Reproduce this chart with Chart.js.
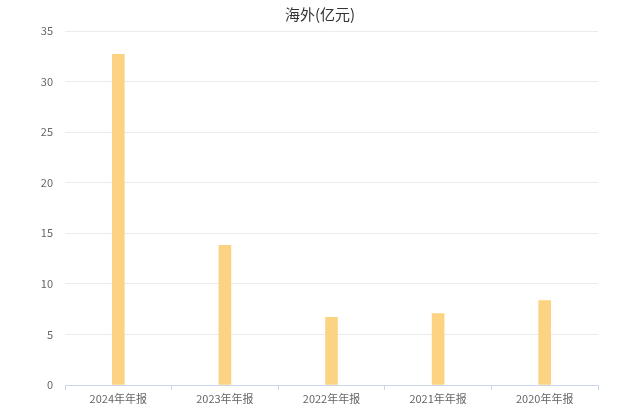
<!DOCTYPE html>
<html>
<head>
<meta charset="utf-8">
<script src="https://cdn.jsdelivr.net/npm/chart.js@4/dist/chart.umd.min.js"></script>
<style>
html,body{margin:0;padding:0;background:#fff;}
#wrap{width:640px;height:414px;}
</style>
</head>
<body>
<div id="wrap"><canvas id="c" width="640" height="414"></canvas></div>
<script>
const categories = ["2024年年报", "2023年年报", "2022年年报", "2021年年报", "2020年年报"];
const overseasValues = [32.7, 13.8, 6.7, 7.05, 8.35];
const yTicks = [0, 5, 10, 15, 20, 25, 30, 35];
const titleText = "海外(亿元)";

const FONT = "'Noto Sans CJK SC', 'Noto Sans', sans-serif";

const centeredTitle = {
  id: 'centeredTitle',
  afterDraw(chart) {
    const ctx = chart.ctx;
    ctx.save();
    ctx.font = "normal 15px " + FONT;
    ctx.fillStyle = '#333';
    ctx.textAlign = 'center';
    ctx.textBaseline = 'middle';
    ctx.fillText(titleText, chart.width / 2, 14);
    ctx.restore();
  }
};

new Chart(document.getElementById('c'), {
  type: 'bar',
  data: {
    labels: categories,
    datasets: [{
      label: titleText,
      data: overseasValues,
      backgroundColor: 'rgb(252,211,130)',
      borderWidth: 0,
      barThickness: 12
    }]
  },
  plugins: [centeredTitle],
  options: {
    responsive: false,
    animation: false,
    devicePixelRatio: 1,
    layout: { padding: { left: 0, right: 42, top: 31, bottom: 0 } },
    plugins: {
      legend: { display: false },
      tooltip: { enabled: false },
      title: { display: false }
    },
    scales: {
      x: {
        offset: true,
        grid: {
          offset: true,
          drawOnChartArea: false,
          drawTicks: true,
          tickLength: 5,
          color: '#ccd6eb'
        },
        border: { display: true, color: '#ccd6eb', width: 1 },
        ticks: {
          color: '#666',
          font: { family: FONT, size: 11 },
          padding: 2,
          maxRotation: 0
        },
        afterFit: (s) => { s.height = 29; }
      },
      y: {
        min: 0,
        max: 35,
        afterBuildTicks: (s) => { s.ticks = yTicks.map(v => ({ value: v })); },
        grid: { color: '#ebebeb', drawTicks: false, lineWidth: 1 },
        border: { display: false },
        ticks: {
          color: '#666',
          font: { family: FONT, size: 11 },
          padding: 12
        },
        afterFit: (s) => { s.width = 65; }
      }
    }
  }
});
</script>
</body>
</html>
